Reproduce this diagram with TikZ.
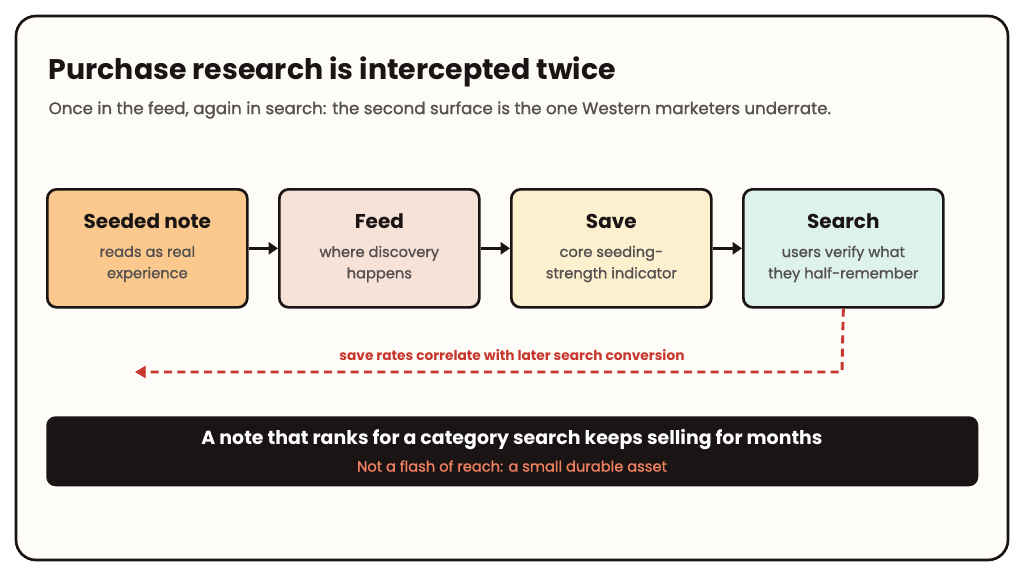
\documentclass[tikz,border=0pt]{standalone}
\usepackage{fontspec}
\setmainfont{Poppins}
\newfontfamily\med[FakeBold=1.2]{Poppins}
\usetikzlibrary{arrows.meta}
\definecolor{bg}{HTML}{FDFCF8}
\definecolor{ink}{HTML}{1A1414}
\definecolor{sub}{HTML}{555050}
\definecolor{c1}{HTML}{FBC98E}
\definecolor{c2}{HTML}{F7E2D7}
\definecolor{c3}{HTML}{FDF0CF}
\definecolor{c4}{HTML}{DDF2EC}
\definecolor{red}{HTML}{C8372D}
\definecolor{orn}{HTML}{F08060}
\begin{document}
\begin{tikzpicture}[x=0.75pt,y=-0.75pt,
 box/.style={draw=ink,line width=2pt,rounded corners=7pt,minimum width=150pt,minimum height=88.5pt,anchor=north west,inner sep=0pt},
 ttl/.style={font=\fontsize{15}{18}\selectfont\bfseries,text=ink},
 dsc/.style={font=\med\fontsize{11}{16}\selectfont,text=sub,align=center},
 arr/.style={-{Triangle[length=7pt,width=9pt]},line width=2.6pt,draw=ink}]
\useasboundingbox (0,0) rectangle (1024,576);
\fill[white] (0,0) rectangle (1024,576);
\draw[ink,line width=2pt,fill=bg,rounded corners=15pt] (16,16) rectangle (1008,560);
\node[anchor=west,font=\fontsize{21.3}{24}\selectfont\bfseries,text=ink] (title) at (44,72) {Purchase research is intercepted twice};
\node[anchor=west,font=\med\fontsize{12.5}{15}\selectfont,text=sub] (subt) at (44,110) {Once in the feed, again in search: the second surface is the one Western marketers underrate.};
\node[box,fill=c1] (b1) at (46,188) {};
\node[box,fill=c2] (b2) at (278,188) {};
\node[box,fill=c3] (b3) at (510,188) {};
\node[box,fill=c4] (b4) at (742,188) {};
\foreach \n/\t/\d in {b1/Seeded note/{reads as real\\experience},b2/Feed/{where discovery\\happens},b3/Save/{core seeding-\\strength indicator},b4/Search/{users verify what\\they half-remember}}{
 \node[ttl] (\n t) at ([yshift=-33*0.75pt]\n.north) {\t};
 \node[dsc] (\n d) at ([yshift=-76*0.75pt]\n.north) {\d};
}
\draw[arr] (b1.east) -- (b2.west);
\draw[arr] (b2.east) -- (b3.west);
\draw[arr] (b3.east) -- (b4.west);
\coordinate (e) at (135,372);
\draw[red,line width=2.2pt,dash pattern=on 6pt off 4pt,-{Triangle[length=8pt,width=9pt]}] (b4.south) -- (842,372) -- (e);
\node[font=\fontsize{10.3}{12}\selectfont\bfseries,text=red] (lab) at (512,355) {save rates correlate with later search conversion};
\node[fill=ink,rounded corners=7pt,minimum width=699pt,minimum height=52.5pt,anchor=north west] (ban) at (46,416) {};
\node[font=\fontsize{14.2}{16}\selectfont\bfseries,text=white] (bt) at (512,440) {A note that ranks for a category search keeps selling for months};
\node[font=\med\fontsize{11}{14}\selectfont,text=orn] (bs) at (512,466) {Not a flash of reach: a small durable asset};
\end{tikzpicture}
\end{document}
